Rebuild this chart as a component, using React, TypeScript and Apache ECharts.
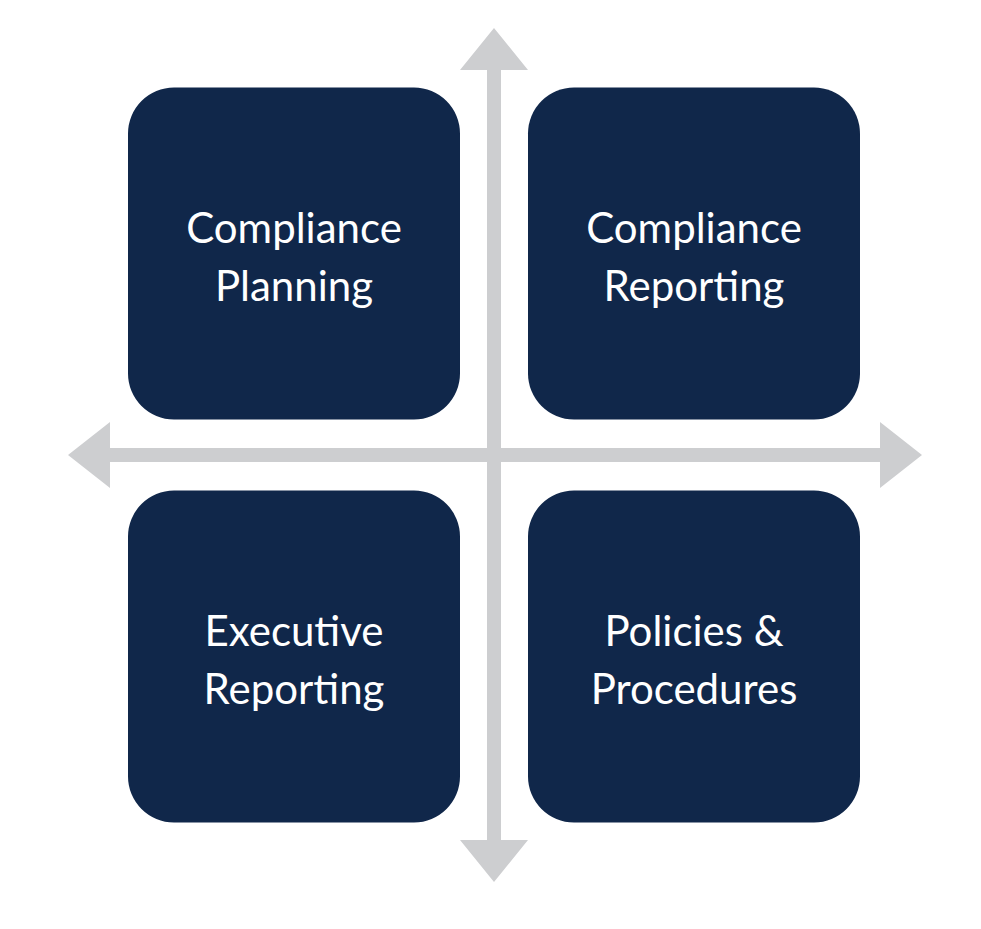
import React, { useEffect, useRef } from "react";
import * as echarts from "echarts";

const columns = ["left", "right"];
const rows = ["top", "bottom"];
const labels = [
  ["left", "top", "Compliance\nPlanning"],
  ["right", "top", "Compliance\nReporting"],
  ["left", "bottom", "Executive\nReporting"],
  ["right", "bottom", "Policies &\nProcedures"],
];

export default function App() {
  const ref = useRef<HTMLDivElement>(null);
  useEffect(() => {
    document.body.style.margin = "0";
    const chart = echarts.init(ref.current!, null, { renderer: "svg" });
    const arrow = "#CDCED0";
    chart.setOption({
      animation: false,
      backgroundColor: "#fff",
      grid: { left: 94, top: 52, width: 800, height: 806 },
      xAxis: { type: "category", data: columns, show: false },
      yAxis: { type: "category", data: rows, show: false, inverse: true },
      graphic: [
        {
          type: "polygon", z: 0,
          shape: { points: [[494,28],[528,70],[501,70],[501,840],[528,840],[494,882],[460,840],[487,840],[487,70],[460,70]] },
          style: { fill: arrow },
        },
        {
          type: "polygon", z: 0,
          shape: { points: [[68,455],[110,422],[110,448],[880,448],[880,422],[922,455],[880,488],[880,462],[110,462],[110,488]] },
          style: { fill: arrow },
        },
      ],
      series: [
        {
          type: "custom",
          z: 5,
          data: labels,
          renderItem: (params: any, api: any) => {
            const c = api.coord([api.value(0), api.value(1)]);
            const s = 332;
            const text = labels[params.dataIndex][2];
            return {
              type: "group",
              children: [
                { type: "rect", shape: { x: c[0] - s / 2, y: c[1] - s / 2, width: s, height: s, r: 46 }, style: { fill: "#10274A" } },
                { type: "text", x: c[0], y: c[1] + 2, style: { text, fill: "#fff", font: "42px Lato", align: "center", verticalAlign: "middle", lineHeight: 58 } },
              ],
            };
          },
        },
      ],
    });
    return () => chart.dispose();
  }, []);
  return <div ref={ref} style={{ width: 981, height: 929 }} />;
}
